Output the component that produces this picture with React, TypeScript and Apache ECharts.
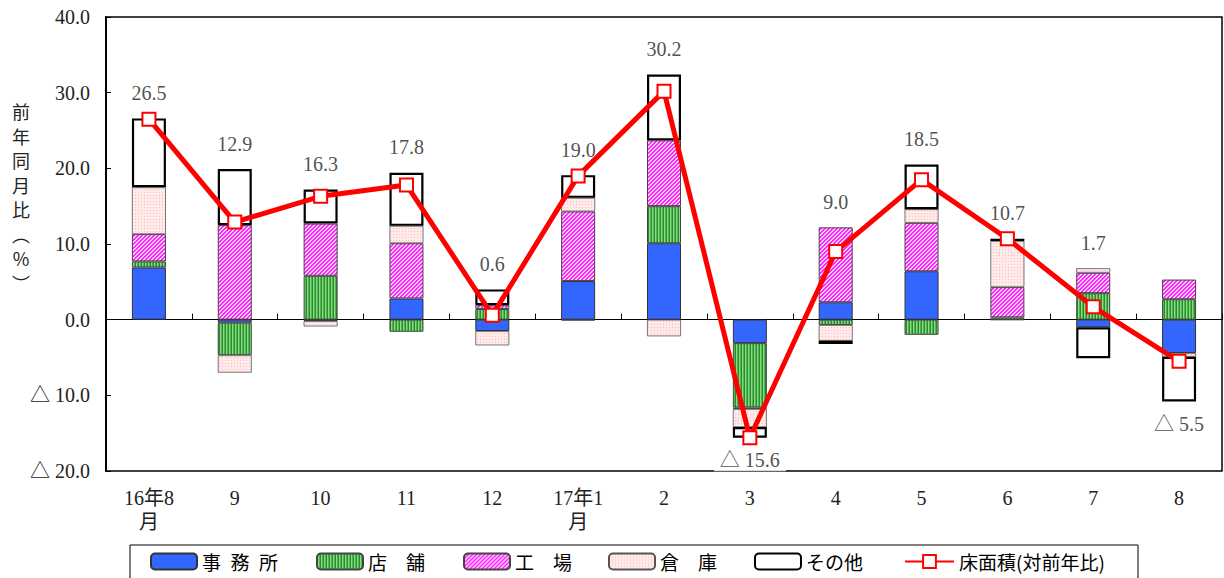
import React, { useEffect, useRef } from "react";
import * as echarts from "echarts";

const categories = ["16年8\n月", "9", "10", "11", "12", "17年1\n月", "2", "3", "4", "5", "6", "7", "8"];
const office = [6.9, -0.4, -0.2, 2.8, -1.5, 5.1, 10.1, -3.1, 2.3, 6.4, 0, -1.0, -4.4];
const shop = [0.8, -4.3, 5.8, -1.6, 1.4, -0.1, 4.9, -8.5, -0.7, -2.0, 0.3, 3.5, 2.7];
const factory = [3.6, 12.5, 6.9, 7.3, 0.5, 9.2, 8.7, -0.2, 9.9, 6.4, 4.0, 2.7, 2.6];
const warehouse = [6.2, -2.3, -0.7, 2.3, -1.9, 1.8, -2.2, -2.4, -2.1, 1.8, 6.1, 0.6, -0.5];
const others = [9.1, 7.4, 4.5, 7.0, 2.1, 3.0, 8.7, -1.4, -0.4, 5.9, 0.3, -4.1, -5.9];
const floorArea = [26.5, 12.9, 16.3, 17.8, 0.6, 19.0, 30.2, -15.6, 9.0, 18.5, 10.7, 1.7, -5.5];
const seriesNames = ["事務所", "店舗", "工場", "倉庫", "その他", "床面積(対前年比)"];
const legendLabels = ["事\u2002務\u2002所", "店\u3000舗", "工\u3000場", "倉\u3000庫", "その他", "床面積(対前年比)"];

const NUM_FONT = "Liberation Serif, Noto Sans CJK JP, serif";
const CJK_FONT = "Noto Sans CJK JP, sans-serif";

function makePattern(w: number, h: number, fn: (x: number, y: number) => string) {
  const c = document.createElement("canvas");
  c.width = w;
  c.height = h;
  const ctx = c.getContext("2d")!;
  for (let y = 0; y < h; y++) {
    for (let x = 0; x < w; x++) {
      ctx.fillStyle = fn(x, y);
      ctx.fillRect(x, y, 1, 1);
    }
  }
  return { image: c.toDataURL(), repeat: "repeat", imageWidth: w, imageHeight: h } as any;
}

function fmt(v: number) {
  return v < 0 ? "△ " + Math.abs(v).toFixed(1) : v.toFixed(1);
}

export default function App() {
  const ref = useRef<HTMLDivElement>(null);
  useEffect(() => {
    document.body.style.margin = "0";
    const chart = echarts.init(ref.current!, undefined, { renderer: "svg" });

    const shopPat = makePattern(3, 1, (x) => ["#2a8c2a", "#8ad88a", "#4cb84c"][x]);
    const factoryPat = makePattern(4, 4, (x, y) => ((x + y) % 4 < 2 ? "#ff22ff" : "#ffccff"));
    const warePat = makePattern(3, 3, (x, y) => (x === 0 && y === 0 ? "#ffbcbc" : "#ffeaea"));

    const stacks = [office, shop, factory, warehouse, others];
    const labelData = categories.map((_, i) => {
      const vals = stacks.map((s) => s[i]);
      const pos = vals.filter((v) => v > 0).reduce((a, b) => a + b, 0);
      const neg = vals.filter((v) => v < 0).reduce((a, b) => a + b, 0);
      const up = floorArea[i] >= 0;
      return {
        value: up ? pos : neg,
        label: up
          ? { position: "top", distance: 15, formatter: fmt(floorArea[i]) }
          : {
              position: "bottom",
              distance: 11,
              formatter: fmt(floorArea[i]),
              backgroundColor: "#fff",
              padding: [1, 6],
            },
      };
    });

    const barBase = (name: string, data: number[], color: any, border: string, bw: number) => ({
      name,
      type: "bar",
      stack: "total",
      barWidth: 34,
      xAxisIndex: 0,
      data,
      z: 2,
      itemStyle: { color, borderColor: border, borderWidth: bw },
    });

    const legendPos = [150, 316, 463, 608, 754, 904];
    const legends = seriesNames.map((n, i) => ({
      data: [n],
      left: legendPos[i],
      top: 552,
      padding: 0,
      itemGap: 0,
      itemWidth: i === 5 ? 49 : 46,
      itemHeight: 16,
      selectedMode: false,
      formatter: () => legendLabels[i],
      textStyle: { fontSize: 19, fontFamily: CJK_FONT, color: "#000" },
    }));

    chart.setOption({
      animation: false,
      grid: {
        left: 106,
        right: 2,
        top: 17,
        bottom: 107,
        show: true,
        borderColor: "#000",
        borderWidth: 1.5,
        backgroundColor: "#fff",
      },
      legend: legends,
      graphic: [
        {
          type: "rect",
          shape: { x: 130, y: 545, width: 1008, height: 40 },
          style: { fill: "#fff", stroke: "#000", lineWidth: 1 },
          z: 0,
        },
        {
          type: "text",
          x: 21,
          y: 99,
          style: {
            text: "前\n年\n同\n月\n比\n︵\n%\n︶",
            fontSize: 18,
            lineHeight: 24.5,
            fontFamily: CJK_FONT,
            fill: "#222",
            align: "center",
            verticalAlign: "top",
          },
        },
      ],
      xAxis: [
        {
          type: "category",
          data: categories,
          position: "bottom",
          axisLine: { show: false, onZero: false },
          axisTick: { show: false },
          axisLabel: {
            fontSize: 20,
            lineHeight: 24,
            margin: 15,
            color: "#222",
            fontFamily: NUM_FONT,
          },
        },
        {
          type: "category",
          data: categories,
          position: "bottom",
          axisLine: { show: true, onZero: true, lineStyle: { color: "#000", width: 1 } },
          axisTick: { show: true, inside: true, length: 6, lineStyle: { color: "#000", width: 1 } },
          axisLabel: { show: false },
        },
      ],
      yAxis: {
        type: "value",
        min: -20,
        max: 40,
        interval: 10,
        axisLine: { show: true, lineStyle: { color: "#000", width: 2 } },
        axisTick: { show: true, inside: true, length: 5, lineStyle: { color: "#000" } },
        splitLine: { show: false },
        axisLabel: {
          fontSize: 20,
          margin: 16,
          color: "#222",
          fontFamily: NUM_FONT,
          formatter: (v: number) => fmt(v),
        },
      },
      series: [
        barBase(seriesNames[0], office, "#3366ff", "#333", 1),
        barBase(seriesNames[1], shop, shopPat, "#444", 1),
        barBase(seriesNames[2], factory, factoryPat, "#444", 1),
        barBase(seriesNames[3], warehouse, warePat, "#555", 0.8),
        barBase(seriesNames[4], others, "#fff", "#000", 2.2),
        {
          name: seriesNames[5],
          type: "line",
          xAxisIndex: 0,
          data: floorArea,
          z: 5,
          symbol: "rect",
          symbolSize: 13,
          lineStyle: { color: "#ff0000", width: 5 },
          itemStyle: { color: "#fff", borderColor: "#ff0000", borderWidth: 2 },
        },
        {
          name: "labels",
          type: "scatter",
          xAxisIndex: 0,
          data: labelData,
          symbolSize: 1,
          silent: true,
          z: 6,
          itemStyle: { color: "rgba(0,0,0,0)" },
          label: {
            show: true,
            fontSize: 20,
            fontFamily: NUM_FONT,
            color: "#222",
          },
        },
      ],
    });
    return () => chart.dispose();
  }, []);
  return <div ref={ref} style={{ width: 1224, height: 578 }} />;
}
